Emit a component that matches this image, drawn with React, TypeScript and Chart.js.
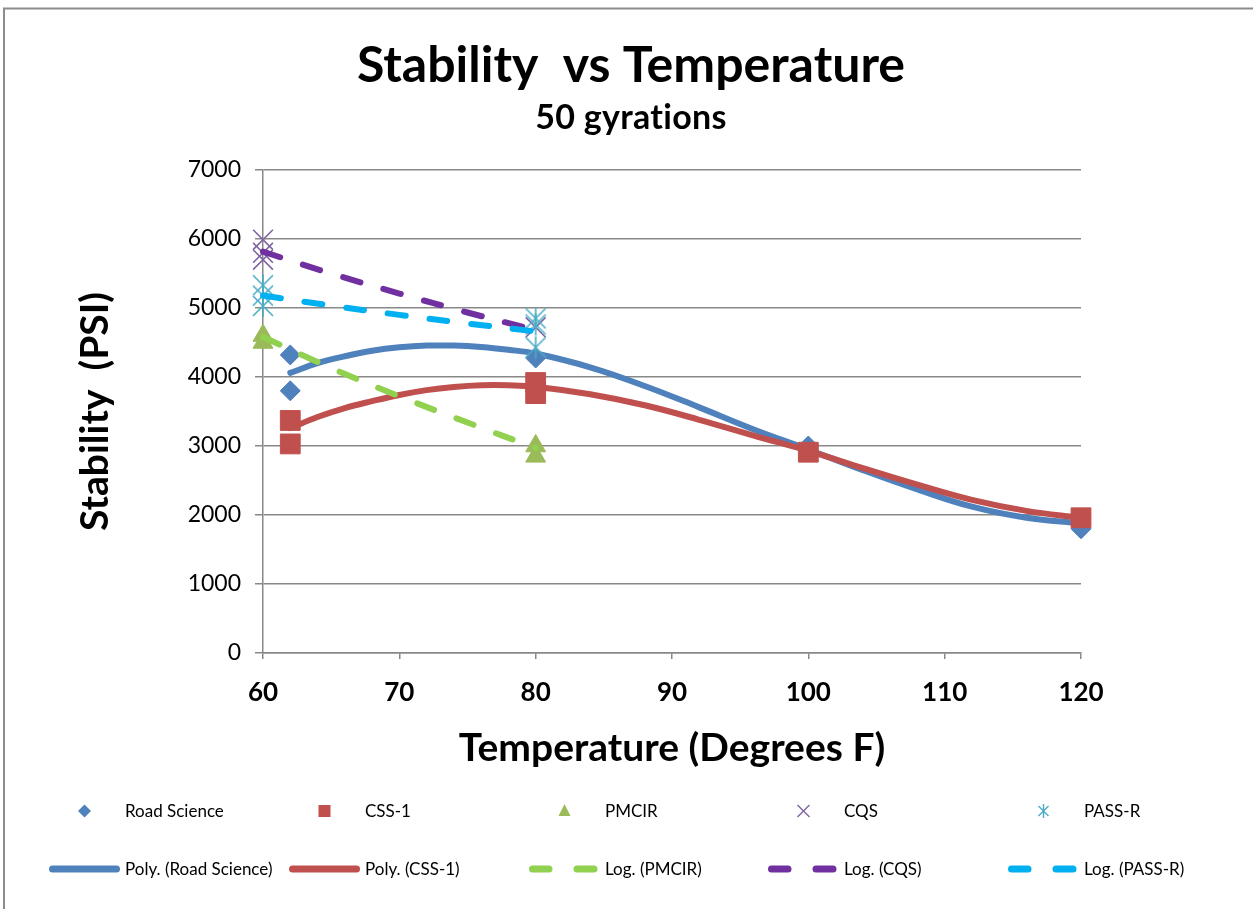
import React, { useEffect, useRef } from "react";
import { Chart, registerables } from "chart.js";

Chart.register(...registerables);

// ---------- text ----------
const mainTitle = "Stability  vs Temperature";
const subTitle = "50 gyrations";
const xTitle = "Temperature (Degrees F)";
const yTitle = "Stability  (PSI)";
const seriesNames = ["Road Science", "CSS-1", "PMCIR", "CQS", "PASS-R"];
const trendNames = ["Poly. (Road Science)", "Poly. (CSS-1)", "Log. (PMCIR)", "Log. (CQS)", "Log. (PASS-R)"];

// ---------- ticks ----------
const xTickValues = [60, 70, 80, 90, 100, 110, 120];
const yTickValues = [0, 1000, 2000, 3000, 4000, 5000, 6000, 7000];

// ---------- measured points ----------
const roadScienceX = [62, 62, 80, 100, 120];
const roadScienceY = [4320, 3800, 4275, 3000, 1800];
const css1X = [62, 62, 80, 80, 100, 120];
const css1Y = [3370, 3030, 3920, 3760, 2910, 1960];
const pmcirX = [60, 60, 80, 80];
const pmcirY = [4600, 4500, 3000, 2850];
const cqsX = [60, 60, 60, 80];
const cqsY = [5990, 5800, 5700, 4720];
const passRX = [60, 60, 60, 80, 80, 80];
const passRY = [5330, 5180, 5030, 4850, 4760, 4430];

// ---------- trendlines ----------
const polyRoadScienceX = [62, 64, 66, 68, 70, 72, 74, 76, 78, 80, 84, 88, 92, 96, 100, 104, 108, 112, 116, 120];
const polyRoadScienceY = [4060, 4200, 4300, 4380, 4430, 4455, 4455, 4435, 4395, 4340, 4140, 3870, 3560, 3240, 2950, 2650, 2370, 2120, 1960, 1880];
const polyCss1X = [62, 64, 66, 68, 70, 72, 74, 76, 78, 80, 84, 88, 92, 96, 100, 104, 108, 112, 116, 120];
const polyCss1Y = [3260, 3420, 3550, 3650, 3740, 3810, 3855, 3880, 3880, 3860, 3750, 3590, 3380, 3150, 2930, 2680, 2440, 2220, 2060, 1960];
const logPmcirX = [60, 65, 70, 75, 80];
const logPmcirY = [4580, 4130, 3720, 3340, 2970];
const logCqsX = [60, 65, 70, 75, 80];
const logCqsY = [5816, 5500, 5210, 4935, 4680];
const logPassRX = [60, 65, 70, 75, 80];
const logPassRY = [5180, 5035, 4900, 4775, 4660];

// ---------- colours ----------
const markerColors = ["#4F81BD", "#C0504D", "#9BBB59", "#8064A2", "#4BACC6"];
const trendColors = ["#4F81BD", "#C0504D", "#92D050", "#7030A0", "#00B0F0"];
const gridColor = "#888888";
const FONT = "Lato";

const pts = (xs: number[], ys: number[]) => xs.map((x, i) => ({ x, y: ys[i] }));

function makeAsterisk(half: number, color: string, lw: number) {
  const c = document.createElement("canvas");
  const s = Math.ceil(half * 2 + lw * 2 + 2);
  c.width = s;
  c.height = s;
  const g = c.getContext("2d")!;
  const m = s / 2;
  g.strokeStyle = color;
  g.lineWidth = lw;
  g.beginPath();
  g.moveTo(m - half, m - half);
  g.lineTo(m + half, m + half);
  g.moveTo(m + half, m - half);
  g.lineTo(m - half, m + half);
  g.moveTo(m, m - half - 1);
  g.lineTo(m, m + half + 1);
  g.stroke();
  return c;
}

function drawMarker(ctx: CanvasRenderingContext2D, kind: number, x: number, y: number, color: string) {
  ctx.save();
  ctx.fillStyle = color;
  ctx.strokeStyle = color;
  ctx.beginPath();
  if (kind === 0) {
    const r = 6.5;
    ctx.moveTo(x, y - r);
    ctx.lineTo(x + r, y);
    ctx.lineTo(x, y + r);
    ctx.lineTo(x - r, y);
    ctx.closePath();
    ctx.fill();
  } else if (kind === 1) {
    ctx.rect(x - 6, y - 6, 12, 12);
    ctx.fill();
  } else if (kind === 2) {
    ctx.moveTo(x, y - 7);
    ctx.lineTo(x + 6, y + 5);
    ctx.lineTo(x - 6, y + 5);
    ctx.closePath();
    ctx.fill();
  } else if (kind === 3) {
    ctx.lineWidth = 1.4;
    ctx.moveTo(x - 6, y - 6);
    ctx.lineTo(x + 6, y + 6);
    ctx.moveTo(x + 6, y - 6);
    ctx.lineTo(x - 6, y + 6);
    ctx.stroke();
  } else {
    ctx.lineWidth = 1.4;
    ctx.moveTo(x - 5, y - 5);
    ctx.lineTo(x + 5, y + 5);
    ctx.moveTo(x + 5, y - 5);
    ctx.lineTo(x - 5, y + 5);
    ctx.moveTo(x, y - 7);
    ctx.lineTo(x, y + 7);
    ctx.stroke();
  }
  ctx.restore();
}

const decorPlugin = {
  id: "decor",
  beforeDraw(chart: any) {
    const ctx = chart.ctx as CanvasRenderingContext2D;
    ctx.save();
    ctx.fillStyle = "#ffffff";
    ctx.fillRect(0, 0, chart.width, chart.height);
    ctx.restore();
  },
  afterDraw(chart: any) {
    const ctx = chart.ctx as CanvasRenderingContext2D;
    ctx.save();
    // outer frame
    ctx.strokeStyle = "#8c8c8c";
    ctx.lineWidth = 2;
    ctx.beginPath();
    ctx.moveTo(4, chart.height);
    ctx.lineTo(4, 8.5);
    ctx.lineTo(chart.width, 8.5);
    ctx.stroke();

    // titles
    ctx.fillStyle = "#000";
    ctx.textAlign = "center";
    ctx.textBaseline = "alphabetic";
    ctx.font = `bold 50px ${FONT}`;
    ctx.fillText(mainTitle, 631, 82);
    ctx.font = `bold 34px ${FONT}`;
    (ctx as any).letterSpacing = "0.3px";
    ctx.fillText(subTitle, 631, 129);
    (ctx as any).letterSpacing = "0px";

    // legend
    const cols = [49, 289, 529, 768, 1008];
    const row1 = 811;
    const row2 = 869;
    ctx.textAlign = "left";
    ctx.textBaseline = "middle";
    ctx.font = `17px ${FONT}`;
    cols.forEach((cx, i) => {
      drawMarker(ctx, i, cx + 35.5, row1, markerColors[i]);
      ctx.fillStyle = "#000";
      ctx.fillText(seriesNames[i], cx + 76, row1 + 1);

      ctx.save();
      ctx.strokeStyle = trendColors[i];
      ctx.lineWidth = 7;
      ctx.lineCap = "round";
      ctx.beginPath();
      if (i < 2) {
        ctx.moveTo(cx + 3.5, row2);
        ctx.lineTo(cx + 67.5, row2);
      } else {
        ctx.moveTo(cx + 3.5, row2);
        ctx.lineTo(cx + 20, row2);
        ctx.moveTo(cx + 48, row2);
        ctx.lineTo(cx + 65, row2);
      }
      ctx.stroke();
      ctx.restore();
      ctx.fillStyle = "#000";
      ctx.fillText(trendNames[i], cx + 76, row2 + 1);
    });
    ctx.restore();
  },
};

export default function App() {
  const ref = useRef<HTMLCanvasElement>(null);

  useEffect(() => {
    document.body.style.margin = "0";
    const canvas = ref.current!;
    const star = makeAsterisk(10, markerColors[4], 1.6);

    const markerDs = (idx: number, data: any[], style: any, radius: number, order: number, extra: any = {}) => ({
      type: "scatter" as const,
      label: seriesNames[idx],
      data,
      pointStyle: style,
      pointRadius: radius,
      pointBackgroundColor: markerColors[idx],
      pointBorderColor: markerColors[idx],
      pointBorderWidth: 1,
      showLine: false,
      clip: false,
      order,
      ...extra,
    });
    const trendDs = (idx: number, data: any[], dashed: boolean, order: number) => ({
      type: "scatter" as const,
      label: trendNames[idx],
      data,
      showLine: true,
      pointRadius: 0,
      borderColor: trendColors[idx],
      backgroundColor: trendColors[idx],
      borderWidth: 6,
      borderCapStyle: "round" as const,
      borderJoinStyle: "round" as const,
      borderDash: dashed ? [18, 24] : [],
      tension: 0.4,
      fill: false,
      clip: false,
      order,
    });

    const chart = new Chart(canvas, {
      type: "scatter",
      data: {
        datasets: [
          markerDs(0, pts(roadScienceX, roadScienceY), "rectRot", 10, 10),
          trendDs(0, pts(polyRoadScienceX, polyRoadScienceY), false, 9),
          markerDs(1, pts(css1X, css1Y), "rect", 14, 8),
          trendDs(1, pts(polyCss1X, polyCss1Y), false, 7),
          markerDs(2, pts(pmcirX, pmcirY), "triangle", 11.5, 6),
          trendDs(2, pts(logPmcirX, logPmcirY), true, 5),
          markerDs(3, pts(cqsX, cqsY), "crossRot", 14, 4, { pointBorderWidth: 1.6 }),
          trendDs(3, pts(logCqsX, logCqsY), true, 3),
          markerDs(4, pts(passRX, passRY), star, 11, 2),
          trendDs(4, pts(logPassRX, logPassRY), true, 1),
        ] as any,
      },
      options: {
        responsive: false,
        animation: false,
        events: [],
        font: { family: FONT },
        layout: { padding: { left: 0, top: 170, right: 172, bottom: 126 } },
        plugins: {
          legend: { display: false },
          tooltip: { enabled: false },
          title: { display: false },
        },
        scales: {
          x: {
            type: "linear",
            min: 60,
            max: 120,
            afterBuildTicks: (s: any) => {
              s.ticks = xTickValues.map((v) => ({ value: v }));
            },
            afterFit: (s: any) => {
              s.height = 130;
            },
            ticks: {
              color: "#000",
              font: { family: FONT, size: 26, weight: "bold" },
              padding: 18,
              callback: (v: any) => String(v),
            },
            grid: {
              display: true,
              drawOnChartArea: false,
              drawTicks: true,
              tickLength: 6,
              color: gridColor,
              lineWidth: 1.5,
            },
            border: { display: true, color: gridColor, width: 1.5 },
            title: {
              display: true,
              text: xTitle,
              color: "#000",
              font: { family: FONT, size: 39, weight: "bold" },
              padding: { top: 0, bottom: 11.6 },
            },
          },
          y: {
            type: "linear",
            min: 0,
            max: 7000,
            afterBuildTicks: (s: any) => {
              s.ticks = yTickValues.map((v) => ({ value: v }));
            },
            afterFit: (s: any) => {
              s.width = 263;
            },
            ticks: {
              color: "#000",
              font: { family: FONT, size: 23 },
              padding: 14,
              callback: (v: any) => String(v),
            },
            grid: {
              color: gridColor,
              lineWidth: 1.5,
              drawTicks: true,
              tickLength: 8,
            },
            border: { display: true, color: gridColor, width: 1.5 },
            title: {
              display: true,
              text: yTitle,
              color: "#000",
              font: { family: FONT, size: 39, weight: "bold" },
              padding: { top: 71.6, bottom: 0 },
            },
          },
        },
      } as any,
      plugins: [decorPlugin],
    });

    return () => chart.destroy();
  }, []);

  return (
    <div style={{ width: 1253, height: 909, background: "#fff", overflow: "hidden" }}>
      <canvas ref={ref} width={1253} height={909} style={{ display: "block", width: 1253, height: 909 }} />
    </div>
  );
}
